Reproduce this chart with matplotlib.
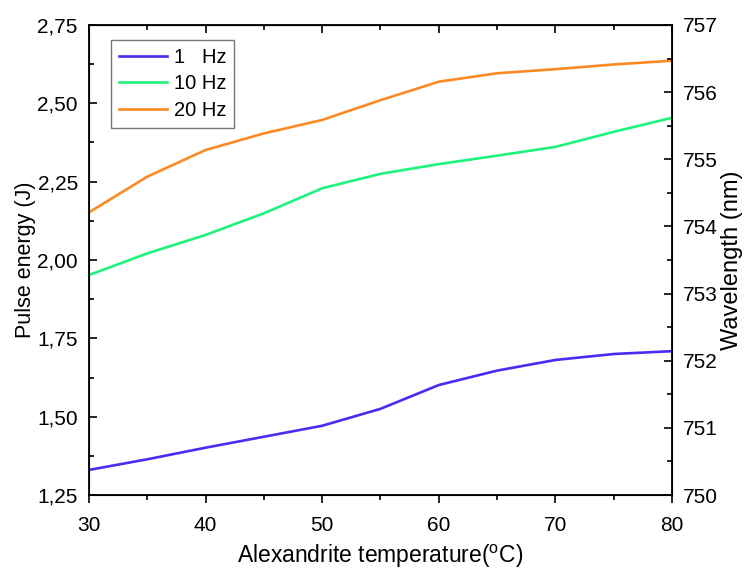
import matplotlib.pyplot as plt
from matplotlib.ticker import FuncFormatter, MultipleLocator

plt.rcParams["font.family"] = ["Liberation Sans", "DejaVu Sans"]

temperature = [30, 35, 40, 45, 50, 55, 60, 65, 70, 75, 80]
energy_1hz = [1.330, 1.364, 1.401, 1.436, 1.471, 1.525, 1.601, 1.647, 1.681, 1.700, 1.709]
energy_10hz = [1.952, 2.021, 2.080, 2.149, 2.229, 2.275, 2.306, 2.333, 2.361, 2.409, 2.454]
energy_20hz = [2.152, 2.266, 2.351, 2.404, 2.447, 2.510, 2.569, 2.596, 2.609, 2.624, 2.636]
series_labels = ["1   Hz", "10 Hz", "20 Hz"]
series_colors = ["#4a2cf0", "#1ef37b", "#fb8a24"]

fig = plt.figure(figsize=(7.49, 5.72), dpi=100)
ax = fig.add_axes([0.1188, 0.1346, 0.7784, 0.8217])

for values, label, color in zip([energy_1hz, energy_10hz, energy_20hz], series_labels, series_colors):
    ax.plot(temperature, values, color=color, linewidth=1.9, label=label)

ax.set_xlim(30, 80)
ax.set_ylim(1.25, 2.75)
ax.xaxis.set_major_locator(MultipleLocator(10))
ax.xaxis.set_minor_locator(MultipleLocator(5))
ax.yaxis.set_major_locator(MultipleLocator(0.25))
ax.yaxis.set_minor_locator(MultipleLocator(0.125))
ax.yaxis.set_major_formatter(FuncFormatter(lambda v, _: f"{v:.2f}".replace(".", ",")))

ax.tick_params(axis="x", which="both", direction="out", labelsize=15, width=1.2, pad=9)
ax.tick_params(axis="x", which="major", length=6)
ax.tick_params(axis="x", which="minor", length=3.5)
ax.tick_params(axis="y", which="both", direction="in", labelsize=15, width=1.2, pad=8)
ax.tick_params(axis="y", which="major", length=6)
ax.tick_params(axis="y", which="minor", length=3.5)
for spine in ax.spines.values():
    spine.set_linewidth(1.3)

# top ticks point inward, no labels
top = ax.secondary_xaxis("top")
top.xaxis.set_major_locator(MultipleLocator(10))
top.xaxis.set_minor_locator(MultipleLocator(5))
top.tick_params(which="both", direction="in", labeltop=False, width=1.2)
top.tick_params(which="major", length=6)
top.tick_params(which="minor", length=3.5)

right = ax.twinx()
right.set_ylim(750, 757)
right.yaxis.set_major_locator(MultipleLocator(1))
right.yaxis.set_minor_locator(MultipleLocator(0.5))
right.tick_params(which="both", direction="in", labelsize=15, width=1.2, pad=8)
right.tick_params(which="major", length=6)
right.tick_params(which="minor", length=3.5)
right.set_ylabel("Wavelength (nm)", fontsize=17, labelpad=2)

ax.set_xlabel("Alexandrite temperature($\\mathregular{^{o}}$C)", fontsize=16.5, labelpad=6)
ax.set_ylabel("Pulse energy (J)", fontsize=15.5, labelpad=1)

legend = ax.legend(loc="upper left", bbox_to_anchor=(0.038, 0.968), borderaxespad=0,
                   fontsize=14.5, fancybox=False, edgecolor="#777777", framealpha=1,
                   handlelength=2.4, borderpad=0.38, labelspacing=0.38, handletextpad=0.35)
legend.get_frame().set_linewidth(1.0)

fig.savefig("out.png", dpi=100)
